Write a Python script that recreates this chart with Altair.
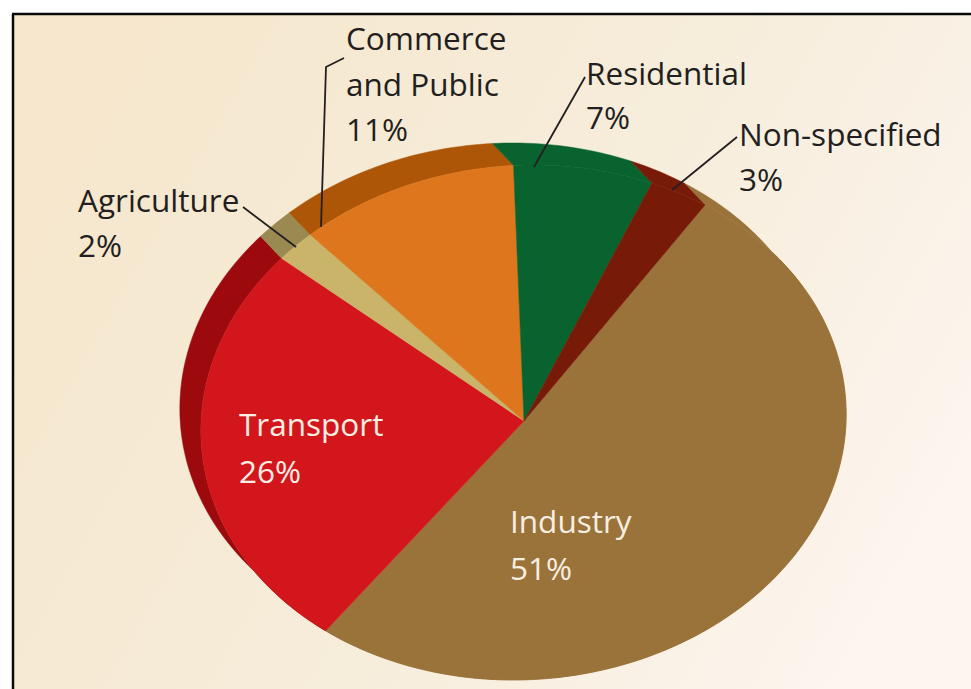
import math
import altair as alt
import pandas as pd

# Sector shares, clockwise from Industry
sectors = ["Industry", "Transport", "Agriculture", "Commerce and Public", "Residential", "Non-specified"]
shares = [51, 26, 2, 11, 7, 3]
face_colors = ["#9a733b", "#d2161c", "#c9b46a", "#dd761c", "#08632f", "#781a08"]
side_colors = ["#9a733b", "#9c0a0e", "#9a8a52", "#ad5607", "#08632f", "#781a08"]

# Geometry of the tilted pie, in canvas units
APEX = (524.0, 421.0)
CENTER = (523.5, 422.5)
RADII = (322.5, 257.5)
SHEAR = 0.04
START_DEG = 32.4
SIDE_OFFSET = (-21.0, -22.0)

W, H = 971, 689
x_scale = alt.Scale(domain=[0, W], range=[0, W])
y_scale = alt.Scale(domain=[0, H], range=[0, H])
X = alt.X("x:Q", scale=x_scale, axis=None)
Y = alt.Y("y:Q", scale=y_scale, axis=None)


def rim_points(start, share):
    """Points on the sheared ellipse, swept clockwise from the top."""
    sweep = share * 3.6
    steps = max(4, int(sweep))
    pts = []
    for k in range(steps + 1):
        a = math.radians(start + sweep * k / steps)
        pts.append(
            (
                CENTER[0] + RADII[0] * math.sin(a) + SHEAR * RADII[1] * math.cos(a),
                CENTER[1] - RADII[1] * math.cos(a),
            )
        )
    return pts


def outline(points):
    """Closed polygon in drawing order."""
    closed = points + [points[0]]
    return pd.DataFrame([{"x": p[0], "y": p[1], "i": i} for i, p in enumerate(closed)])


def polygon(points, color):
    return (
        alt.Chart(outline(points))
        .mark_line(fill=color, stroke=color, strokeWidth=0.5)
        .encode(x=X, y=Y, order="i:Q")
    )


def slice_layers():
    """Extruded side bands first, then the pie faces on top."""
    bands, faces = [], []
    angle = START_DEG
    for share, face, side in zip(shares, face_colors, side_colors):
        rim = rim_points(angle, share)
        moved = [(p[0] + SIDE_OFFSET[0], p[1] + SIDE_OFFSET[1]) for p in rim]
        bands.append(polygon(rim + moved[::-1], side))
        faces.append(polygon([APEX] + rim, face))
        angle += share * 3.6
    return bands + faces


# Panel background with its soft cream gradient
panel = pd.DataFrame([{"x": 14, "x2": W, "y": 15, "y2": H}])
background = alt.Chart(panel).mark_rect(
    fill=alt.Gradient(
        gradient="linear", x1=0, y1=0.3, x2=1, y2=0.7,
        stops=[
            alt.GradientStop(offset=0, color="#f6e7cd"),
            alt.GradientStop(offset=0.55, color="#f6eddb"),
            alt.GradientStop(offset=1, color="#fdf5ef"),
        ],
    )
).encode(x=X, x2="x2:Q", y=Y, y2="y2:Q")

# Black frame on the top and left of the panel
frame_top = alt.Chart(pd.DataFrame([{"x": 12, "x2": W, "y": 14}])).mark_rule(
    color="#0a0a0a", strokeWidth=2.5
).encode(x=X, x2="x2:Q", y=Y)
frame_left = alt.Chart(pd.DataFrame([{"x": 13, "y": 14, "y2": H}])).mark_rule(
    color="#0a0a0a", strokeWidth=2.5
).encode(x=X, y=Y, y2="y2:Q")

# Leader lines from the labels into their slices
leaders = pd.DataFrame(
    [
        {"name": "Agriculture", "i": 0, "x": 243, "y": 207},
        {"name": "Agriculture", "i": 1, "x": 296, "y": 247},
        {"name": "Commerce", "i": 0, "x": 344, "y": 58},
        {"name": "Commerce", "i": 1, "x": 326, "y": 67},
        {"name": "Commerce", "i": 2, "x": 321, "y": 227},
        {"name": "Residential", "i": 0, "x": 585, "y": 77},
        {"name": "Residential", "i": 1, "x": 534, "y": 167},
        {"name": "Non-specified", "i": 0, "x": 737, "y": 137},
        {"name": "Non-specified", "i": 1, "x": 672, "y": 190},
    ]
)
leader_lines = alt.Chart(leaders).mark_line(color="#231f20", strokeWidth=1.8).encode(
    x=X, y=Y, detail="name:N", order="i:Q"
)

# Slice labels, one row per text line
dark_text = pd.DataFrame(
    [
        {"x": 78, "y": 212, "t": "Agriculture"},
        {"x": 78, "y": 257, "t": "2%"},
        {"x": 346, "y": 50, "t": "Commerce"},
        {"x": 346, "y": 96, "t": "and Public"},
        {"x": 346, "y": 141, "t": "11%"},
        {"x": 586, "y": 85, "t": "Residential"},
        {"x": 586, "y": 129, "t": "7%"},
        {"x": 739, "y": 146, "t": "Non-specified"},
        {"x": 739, "y": 191, "t": "3%"},
    ]
)
light_text = pd.DataFrame(
    [
        {"x": 239, "y": 436, "t": "Transport"},
        {"x": 239, "y": 483, "t": "26%"},
        {"x": 510, "y": 533, "t": "Industry"},
        {"x": 510, "y": 580, "t": "51%"},
    ]
)


def text_layer(df, color):
    return alt.Chart(df).mark_text(
        font="Open Sans", fontSize=31.5, align="left", baseline="alphabetic", color=color
    ).encode(x=X, y=Y, text="t:N")


layers = (
    [background, frame_top, frame_left]
    + slice_layers()
    + [leader_lines, text_layer(dark_text, "#231f20"), text_layer(light_text, "#f8eee2")]
)

chart = (
    alt.layer(*layers)
    .properties(width=W, height=H, padding=0, autosize=alt.AutoSizeParams(type="none"), background="white")
    .configure_view(stroke=None)
)

chart.save("out.html", embed_options={"renderer": "svg", "actions": False})
